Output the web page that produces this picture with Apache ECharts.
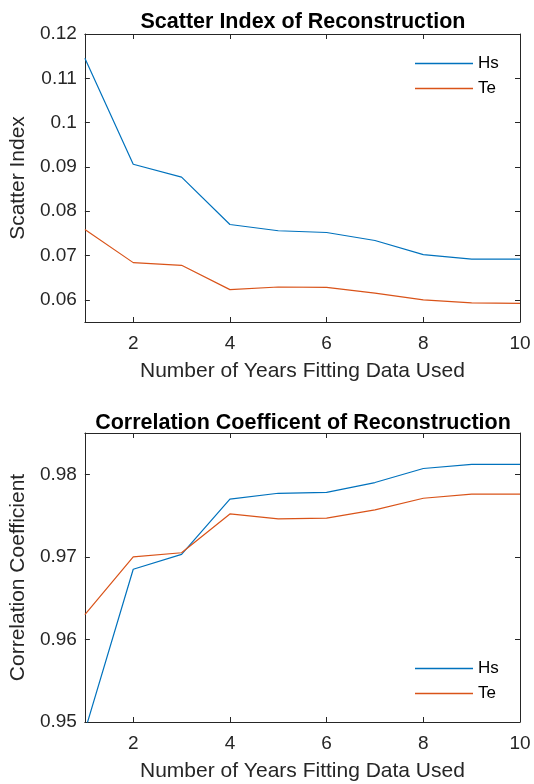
<!DOCTYPE html>
<html>
<head>
<meta charset="utf-8">
<script src="https://cdn.jsdelivr.net/npm/echarts@6/dist/echarts.min.js"></script>
<style>
  html, body { margin: 0; padding: 0; background: #ffffff; }
  #chart { width: 534px; height: 784px; }
</style>
</head>
<body>
<div id="chart"></div>
<script>
// Number of years of fitting data used
const years = [1, 2, 3, 4, 5, 6, 7, 8, 9, 10];

// Scatter index of the reconstruction
const scatterHs = [0.1145, 0.0906, 0.0877, 0.0770, 0.0756, 0.0752, 0.0734, 0.0702, 0.0692, 0.0692];
const scatterTe = [0.0759, 0.0684, 0.0678, 0.0623, 0.0629, 0.0628, 0.0615, 0.0600, 0.0593, 0.0592];

// Correlation coefficient of the reconstruction
const corrHs = [0.9489, 0.9685, 0.9703, 0.9770, 0.9777, 0.9778, 0.9790, 0.9807, 0.9812, 0.9812];
const corrTe = [0.9630, 0.9700, 0.9705, 0.9752, 0.9746, 0.9747, 0.9757, 0.9771, 0.9776, 0.9776];

// Tick positions
const xTicks = [2, 4, 6, 8, 10];
const scatterTicks = [0.06, 0.07, 0.08, 0.09, 0.1, 0.11, 0.12];
const corrTicks = [0.95, 0.96, 0.97, 0.98];

const FONT = '"Liberation Sans", Arial, Helvetica, sans-serif';
const AX = '#262626';
const BLUE = '#0072BD';
const ORANGE = '#D95319';

const chart = echarts.init(document.getElementById('chart'), null, { renderer: 'canvas' });

function pairs(xs, ys) {
  return xs.map((x, i) => [x, ys[i]]);
}

function mainX(gridIndex) {
  return {
    type: 'value', gridIndex, position: 'bottom', min: 1, max: 10,
    name: 'Number of Years Fitting Data Used',
    nameLocation: 'middle', nameGap: 39,
    nameTextStyle: { fontFamily: FONT, fontSize: 21, color: AX },
    axisLine: { show: true, onZero: false, lineStyle: { color: AX, width: 1 } },
    axisTick: { show: true, inside: true, length: 5, customValues: xTicks, lineStyle: { color: AX } },
    axisLabel: { show: true, customValues: xTicks, margin: 12, fontFamily: FONT, fontSize: 19, color: AX },
    splitLine: { show: false }
  };
}
function mirrorX(gridIndex) {
  return {
    type: 'value', gridIndex, position: 'top', min: 1, max: 10,
    axisLine: { show: true, onZero: false, lineStyle: { color: AX, width: 1 } },
    axisTick: { show: true, inside: true, length: 5, customValues: xTicks, lineStyle: { color: AX } },
    axisLabel: { show: false },
    splitLine: { show: false }
  };
}
function mainY(gridIndex, min, max, ticks, name) {
  return {
    type: 'value', gridIndex, position: 'left', min, max,
    name, nameLocation: 'middle', nameGap: 50, nameRotate: 90,
    nameTextStyle: { fontFamily: FONT, fontSize: 21, color: AX },
    axisLine: { show: true, onZero: false, lineStyle: { color: AX, width: 1 } },
    axisTick: { show: true, inside: true, length: 5, customValues: ticks, lineStyle: { color: AX } },
    axisLabel: { show: true, customValues: ticks, margin: 8, fontFamily: FONT, fontSize: 19, color: AX,
      formatter: v => String(Math.round(v * 1000) / 1000) },
    splitLine: { show: false }
  };
}
function mirrorY(gridIndex, min, max, ticks) {
  return {
    type: 'value', gridIndex, position: 'right', min, max,
    axisLine: { show: true, onZero: false, lineStyle: { color: AX, width: 1 } },
    axisTick: { show: true, inside: true, length: 5, customValues: ticks, lineStyle: { color: AX } },
    axisLabel: { show: false },
    splitLine: { show: false }
  };
}
function lineSeries(name, color, xIdx, yIdx, data) {
  return {
    type: 'line', name, xAxisIndex: xIdx, yAxisIndex: yIdx, data,
    showSymbol: false, symbol: 'none', clip: true, animation: false,
    lineStyle: { color, width: 1.2 }, itemStyle: { color }
  };
}

// Legend keys are plain line segments
const legendBase = {
  orient: 'vertical', left: 410,
  icon: 'rect', itemWidth: 58, itemHeight: 1.5, itemGap: 8,
  textStyle: { fontFamily: FONT, fontSize: 17, color: '#000000' },
  data: ['Hs', 'Te'],
  selectedMode: false
};

chart.setOption({
  backgroundColor: '#ffffff',
  animation: false,
  grid: [
    { left: 84, top: 34, width: 436, height: 288 },
    { left: 84, top: 433, width: 436, height: 289 }
  ],
  xAxis: [mainX(0), mirrorX(0), mainX(1), mirrorX(1)],
  yAxis: [
    mainY(0, 0.055, 0.12, scatterTicks, 'Scatter Index'),
    mirrorY(0, 0.055, 0.12, scatterTicks),
    mainY(1, 0.95, 0.985, corrTicks, 'Correlation Coefficient'),
    mirrorY(1, 0.95, 0.985, corrTicks)
  ],
  legend: [
    Object.assign({}, legendBase, { top: 50 }),
    Object.assign({}, legendBase, { top: 655 })
  ],
  graphic: [
    { type: 'text', x: 303, y: 22, style: { text: 'Scatter Index of Reconstruction', fontFamily: FONT, fontSize: 21.5, fontWeight: 'bold', fill: '#000000', align: 'center', verticalAlign: 'middle' } },
    { type: 'text', x: 303, y: 423, style: { text: 'Correlation Coefficent of Reconstruction', fontFamily: FONT, fontSize: 21.5, fontWeight: 'bold', fill: '#000000', align: 'center', verticalAlign: 'middle' } }
  ],
  series: [
    lineSeries('Hs', BLUE, 0, 0, pairs(years, scatterHs)),
    lineSeries('Te', ORANGE, 0, 0, pairs(years, scatterTe)),
    lineSeries('Hs', BLUE, 2, 2, pairs(years, corrHs)),
    lineSeries('Te', ORANGE, 2, 2, pairs(years, corrTe))
  ]
});
</script>
</body>
</html>
